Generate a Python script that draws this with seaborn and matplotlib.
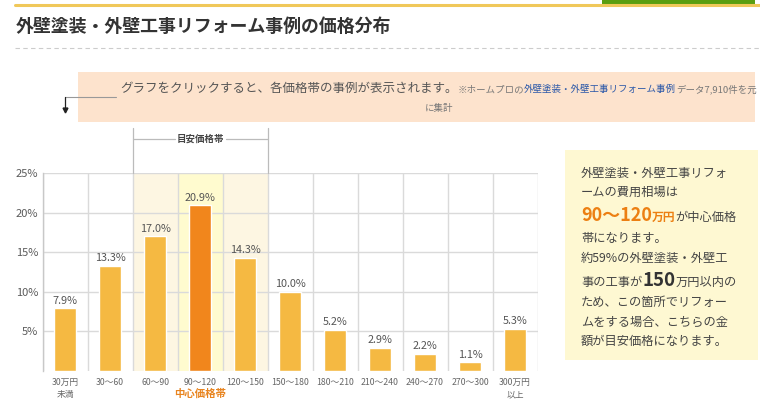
import matplotlib
matplotlib.use("Agg")
import matplotlib.pyplot as plt
import seaborn as sns
import pandas as pd
from matplotlib.lines import Line2D
from matplotlib.patches import Rectangle

# ---------------- data ----------------
categories = ["30万円\n未満", "30～60", "60～90", "90～120", "120～150", "150～180",
              "180～210", "210～240", "240～270", "270～300", "300万円\n以上"]
shares = [7.9, 13.3, 17.0, 20.9, 14.3, 10.0, 5.2, 2.9, 2.2, 1.1, 5.3]
y_ticks = [5, 10, 15, 20, 25]
y_tick_labels = ["5%", "10%", "15%", "20%", "25%"]
highlight_category = "90～120"
band_categories = ["60～90", "90～120", "120～150"]
band_label = "目安価格帯"
center_label = "中心価格帯"
title = "外壁塗装・外壁工事リフォーム事例の価格分布"
notice_main = "グラフをクリックすると、各価格帯の事例が表示されます。"
notice_small = ["※ホームプロの", "外壁塗装・外壁工事リフォーム事例", "データ7,910件を元"]
notice_line2 = "に集計"
side_lines = [
    [("外壁塗装・外壁工事リフォ", "n")],
    [("ームの費用相場は", "n")],
    [("90～120", "big_o"), ("万円", "small_o"), ("が中心価格", "n")],
    [("帯になります。", "n")],
    [("約59%の外壁塗装・外壁工", "n")],
    [("事の工事が", "n"), ("150", "big_d"), ("万円以内の", "n")],
    [("ため、この箇所でリフォー", "n")],
    [("ムをする場合、こちらの金", "n")],
    [("額が目安価格になります。", "n")],
]

# ---------------- style ----------------
sns.set_theme(style="white")
FONT = ["Noto Sans CJK JP", "DejaVu Sans"]
plt.rcParams["font.family"] = FONT

W, H = 760, 408
fig = plt.figure(figsize=(W / 100, H / 100), dpi=100)
fig.patch.set_facecolor("white")


def fx(x):
    return x / W


def fy(y):
    return 1 - y / H


BAR = "#F5B942"
HIGH = "#F1861C"
palette = {c: (HIGH if c == highlight_category else BAR) for c in categories}

# chart axes: left 42.5px, right 537.5px, top 173px, bottom 371px
ax = fig.add_axes([fx(42.5), fy(371), (537.5 - 42.5) / W, (371 - 173) / H])
ax.set_facecolor("white")

df = pd.DataFrame({"cat": categories, "share": shares})
sns.barplot(data=df, x="cat", y="share", hue="cat", palette=palette, order=categories,
            hue_order=categories, legend=False, width=0.48, saturation=1, ax=ax, zorder=3)

ax.set_xlim(-0.5, len(categories) - 0.5)
ax.set_ylim(0, 25)

# shaded band columns
for c in band_categories:
    i = categories.index(c)
    col = "#FFFBCF" if c == highlight_category else "#FDF6E2"
    ax.axvspan(i - 0.5, i + 0.5, color=col, zorder=0, lw=0)

# grid
for y in y_ticks:
    ax.axhline(y, color="#DADADA", lw=1, zorder=1)
for i in range(len(categories) + 1):
    ax.axvline(i - 0.5, color="#DADADA", lw=1, zorder=1)

for s in ["top", "right", "bottom"]:
    ax.spines[s].set_visible(False)
ax.spines["left"].set_color("#C8C8C8")
ax.spines["left"].set_linewidth(1)

ax.set_yticks(y_ticks)
ax.set_yticklabels(y_tick_labels, fontsize=8, color="#5A5A5A")
ax.tick_params(axis="y", length=0, pad=3)
ax.set_xticks(range(len(categories)))
ax.set_xticklabels(categories, fontsize=6.3, color="#666666", linespacing=1.45)
ax.tick_params(axis="x", length=0, pad=5)
ax.set_xlabel("")
ax.set_ylabel("")

# value labels
for i, v in enumerate(shares):
    ax.annotate(f"{v:.1f}%", (i, v), xytext=(0, 2), textcoords="offset points",
                ha="center", va="bottom", fontsize=7.8, color="#555555")

# center label
ci = categories.index(highlight_category)
ax.annotate(center_label, (ci, 0), xytext=(0, -16.5), textcoords="offset points",
            ha="center", va="center", fontsize=7.5, color="#E8841F", fontweight="bold",
            annotation_clip=False)

# bracket above band
b0 = categories.index(band_categories[0]) - 0.5
b1 = categories.index(band_categories[-1]) + 0.5
x0p = 42.5 + (b0 + 0.5) * 45
x1p = 42.5 + (b1 + 0.5) * 45
lc = "#BBBBBB"
fig.add_artist(Line2D([fx(x0p)] * 2, [fy(128), fy(173)], color=lc, lw=0.9))
fig.add_artist(Line2D([fx(x1p)] * 2, [fy(128), fy(173)], color=lc, lw=0.9))
fig.add_artist(Line2D([fx(x0p), fx(175)], [fy(138.5)] * 2, color=lc, lw=0.9))
fig.add_artist(Line2D([fx(226), fx(x1p)], [fy(138.5)] * 2, color=lc, lw=0.9))
fig.text(fx((x0p + x1p) / 2), fy(138.5), band_label, ha="center", va="center",
         fontsize=6.8, fontweight="bold", color="#444444")

# ---------------- header ----------------
fig.add_artist(Line2D([fx(15), fx(760)], [fy(5)] * 2, color="#F0C85A", lw=2.2))
fig.add_artist(Rectangle((fx(602), fy(5.5)), (755 - 602) / W, 5.5 / H,
                         transform=fig.transFigure, color="#5A9E10", lw=0))
fig.text(fx(16), fy(26.5), title, ha="left", va="center", fontsize=12.9,
         fontweight="bold", color="#333333")
fig.add_artist(Line2D([fx(15), fx(760)], [fy(48)] * 2, color="#CCCCCC", lw=0.8,
                      linestyle=(0, (4, 3))))

# notice box
fig.add_artist(Rectangle((fx(78), fy(122)), (755 - 78) / W, (122 - 72) / H,
                         transform=fig.transFigure, color="#FDE3CD", lw=0))
fig.add_artist(Line2D([fx(65), fx(116)], [fy(97)] * 2, color="#999999", lw=0.8))
fig.add_artist(Line2D([fx(65), fx(65)], [fy(97), fy(110)], color="#222222", lw=0.9))
fig.add_artist(Line2D([fx(65)], [fy(110)], marker="v", markersize=3.5, color="#222222"))

renderer = fig.canvas.get_renderer()


def seq_text(x, y, parts):
    """Place consecutive text segments on a baseline (pixel coords)."""
    cur = x
    for s, kw in parts:
        t = fig.text(fx(cur), fy(y), s, ha="left", va="baseline", **kw)
        bb = t.get_window_extent(renderer=renderer)
        cur += bb.width
    return cur


seq_text(120, 92, [
    (notice_main, dict(fontsize=9.0, color="#555555")),
    (notice_small[0], dict(fontsize=6.8, color="#777777")),
    (notice_small[1], dict(fontsize=6.8, color="#2A57A8")),
    (notice_small[2], dict(fontsize=6.8, color="#777777")),
])
fig.text(fx(425), fy(111), notice_line2, ha="left", va="baseline", fontsize=6.8,
         color="#777777")

# side box
fig.add_artist(Rectangle((fx(565), fy(360)), (758 - 565) / W, (360 - 150) / H,
                         transform=fig.transFigure, color="#FEF8D2", lw=0))
styles = {
    "n": dict(fontsize=8.8, color="#444444"),
    "big_o": dict(fontsize=13, color="#EC7F12", fontweight="bold"),
    "small_o": dict(fontsize=8.5, color="#EC7F12", fontweight="bold"),
    "big_d": dict(fontsize=13.5, color="#333333", fontweight="bold"),
}
baselines = [177, 196, 221, 242, 262, 286, 306, 326, 345]
for line, yb in zip(side_lines, baselines):
    seq_text(581, yb, [(s, styles[k]) for s, k in line])

fig.savefig("out.png", dpi=100, facecolor="white")
